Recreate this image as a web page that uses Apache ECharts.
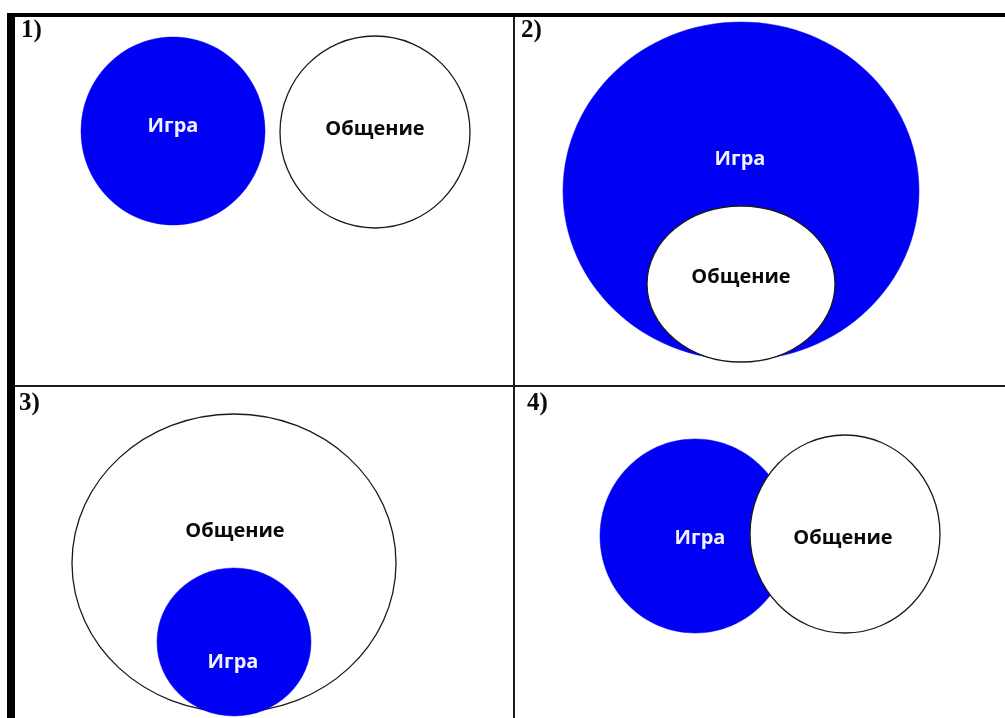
<!DOCTYPE html>
<html>
<head>
<meta charset="utf-8">
<script src="https://cdn.jsdelivr.net/npm/echarts@6/dist/echarts.min.js"></script>
<style>
html,body{margin:0;padding:0;background:#fff;}
#chart{width:1005px;height:718px;}
</style>
</head>
<body>
<div id="chart"></div>
<script>
// ---- data ----
const panelLabels = ['1)', '2)', '3)', '4)'];
const panelLabelX = [21, 521, 19, 527];
const panelLabelY = [31, 31, 404, 404];

// sets drawn in order (back to front)
const setNames = ['Игра', 'Общение', 'Игра', 'Общение', 'Общение', 'Игра', 'Игра', 'Общение'];
const setCx = [173, 375, 741, 741, 234, 234, 695, 845];
const setCy = [131, 132, 191, 284, 563, 642, 536, 534];
const setRx = [92, 95, 178, 94, 162, 77, 95, 95];
const setRy = [94, 96, 169, 78, 149, 74, 97, 99];
const labelX = [173, 375, 740, 741, 235, 233, 700, 843];
const labelY = [126, 129, 159, 277, 531, 662, 538, 538];

// table rules: x1, y1, x2, y2, weight
const ruleX1 = [7, 11, 514, 15];
const ruleY1 = [15, 13, 17, 386];
const ruleX2 = [1005, 11, 514, 1005];
const ruleY2 = [15, 718, 718, 386];
const ruleW = [4, 8, 2, 2];

// ---- chart ----
const setFill = { 'Игра': '#0000f4', 'Общение': '#ffffff' };
const setText = { 'Игра': '#f2f2ff', 'Общение': '#0a0a0a' };
const setStroke = { 'Игра': null, 'Общение': '#1a1a1a' };

const setData = setNames.map((n, i) => [setCx[i], setCy[i], setRx[i], setRy[i], i]);
const ruleData = ruleX1.map((x, i) => [x, ruleY1[i], ruleX2[i], ruleY2[i], ruleW[i]]);
const labelData = setNames.map((n, i) => [labelX[i], labelY[i], i]);
const panelData = panelLabels.map((t, i) => [panelLabelX[i], panelLabelY[i], i]);

const chart = echarts.init(document.getElementById('chart'), null, { renderer: 'canvas' });
chart.setOption({
  animation: false,
  backgroundColor: '#ffffff',
  grid: { left: 0, right: 0, top: 0, bottom: 0 },
  xAxis: { type: 'value', min: 0, max: 1005, show: false },
  yAxis: { type: 'value', min: 0, max: 718, inverse: true, show: false },
  series: [
    {
      type: 'custom',
      name: 'sets',
      data: setData,
      clip: true,
      renderItem: function (params, api) {
        const c = api.coord([api.value(0), api.value(1)]);
        const s = api.size([api.value(2), api.value(3)]);
        const name = setNames[api.value(4)];
        const stroke = setStroke[name];
        return {
          type: 'ellipse',
          shape: { cx: c[0], cy: c[1], rx: s[0], ry: s[1] },
          style: {
            fill: setFill[name],
            stroke: stroke || setFill[name],
            lineWidth: stroke ? 1.3 : 0.5
          }
        };
      }
    },
    {
      type: 'custom',
      name: 'setLabels',
      data: labelData,
      renderItem: function (params, api) {
        const c = api.coord([api.value(0), api.value(1)]);
        const name = setNames[api.value(2)];
        return {
          type: 'text',
          x: c[0], y: c[1],
          style: {
            text: name,
            fill: setText[name],
            font: 'bold 20px "Open Sans", sans-serif',
            align: 'center',
            verticalAlign: 'middle'
          }
        };
      }
    },
    {
      type: 'custom',
      name: 'rules',
      data: ruleData,
      renderItem: function (params, api) {
        const a = api.coord([api.value(0), api.value(1)]);
        const b = api.coord([api.value(2), api.value(3)]);
        const w = api.value(4);
        return {
          type: 'line',
          shape: { x1: a[0], y1: a[1], x2: b[0], y2: b[1] },
          style: { stroke: w > 2 ? '#000000' : '#1c1c1c', lineWidth: w }
        };
      }
    },
    {
      type: 'custom',
      name: 'panels',
      data: panelData,
      renderItem: function (params, api) {
        const c = api.coord([api.value(0), api.value(1)]);
        return {
          type: 'text',
          x: c[0], y: c[1],
          style: {
            text: panelLabels[api.value(2)],
            fill: '#0a0a0a',
            font: 'bold 25px "Liberation Serif", serif',
            align: 'left',
            verticalAlign: 'middle'
          }
        };
      }
    }
  ]
});
</script>
</body>
</html>
